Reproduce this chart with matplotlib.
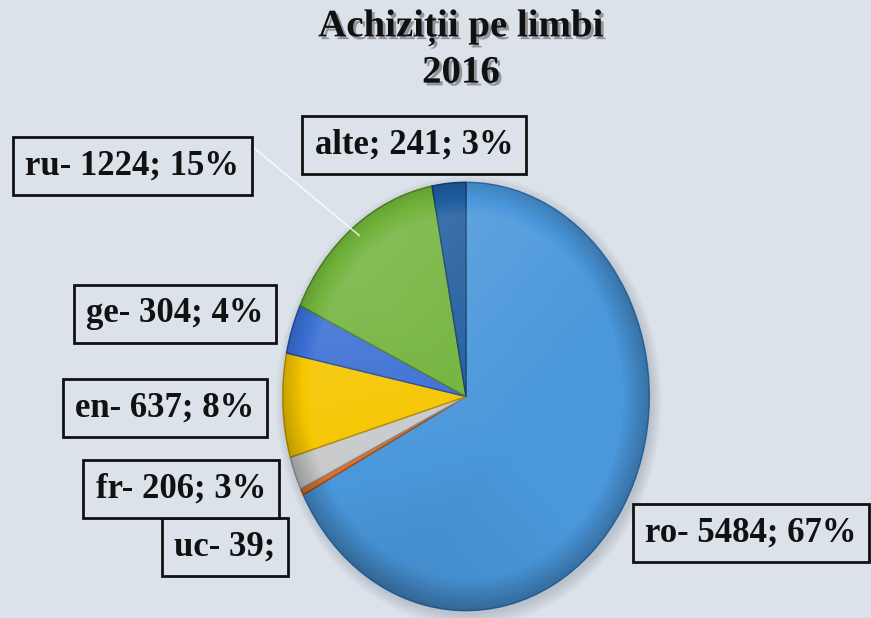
import matplotlib
matplotlib.use("Agg")
import matplotlib.pyplot as plt
import matplotlib.patheffects as pe
from matplotlib.patches import Circle, Ellipse
import numpy as np

# data
langs = ["ro", "uc", "fr", "en", "ge", "ru", "alte"]
counts = [5484, 39, 206, 637, 304, 1224, 241]
colors = ["#4a97db", "#e0702a", "#c8cacc", "#f6c600", "#3b6fd4", "#70b23a", "#1f5c9e"]
edges = ["#2f6fae", "#a04a14", "#8a8c8e", "#b08c00", "#234a9a", "#4a7f22", "#123d6e"]

title = "Achiziții pe limbi\n2016"

# label box centres in pixels (x, y from top)
label_pos = {
    "ro": (751, 533), "uc": (225, 547), "fr": (181, 489), "en": (165, 408),
    "ge": (175, 314), "ru": (132, 166), "alte": (414, 145),
}

W, H = 871, 618
bg = "#dce2ea"

fig = plt.figure(figsize=(W / 100, H / 100), dpi=100)
fig.patch.set_facecolor(bg)

# pie is an ellipse: centre (466, 396.5), rx 187, ry 218.5 px
cx, cy, rx, ry = 466, 396.5, 187, 218.5
ax = fig.add_axes([(cx - rx) / W, (H - cy - ry) / H, 2 * rx / W, 2 * ry / H])

# soft shadow behind the pie
for k in range(6):
    ax.add_patch(Ellipse((0.015, -0.02), 2.0 + 0.02 * k, 2.0 + 0.02 * k,
                         facecolor="#6a7480", alpha=0.05, lw=0, zorder=0,
                         clip_on=False))

wedges, _ = ax.pie(counts, colors=colors, startangle=90, counterclock=False,
                   wedgeprops=dict(linewidth=1.0))
for w, ec in zip(wedges, edges):
    w.set_edgecolor(ec)
    w.set_zorder(2)

# shading: light top-left, dark toward the rim
n = 300
gx, gy = np.meshgrid(np.linspace(-1, 1, n), np.linspace(1, -1, n))
r = np.sqrt(gx ** 2 + gy ** 2)
light = np.clip(0.18 * (gy - gx) / 2 + 0.04, 0, None)
dark = np.clip((r - 0.85) / 0.15, 0, 1) * 0.25 + np.clip(-(gy + gx) / 2, 0, 1) * 0.12
shade = np.zeros((n, n, 4))
shade[..., :3] = np.where((light > dark)[..., None], 1.0, 0.0)
shade[..., 3] = np.abs(light - dark)
im = ax.imshow(shade, extent=(-1, 1, -1, 1), zorder=3, interpolation="bilinear")
im.set_clip_path(Circle((0, 0), 1.0, transform=ax.transData))

ax.set_aspect("auto")
ax.set_xlim(-1.02, 1.02)
ax.set_ylim(-1.02, 1.02)
ax.axis("off")

total = sum(counts)
pcts = [round(c / total * 100) for c in counts]

# leader line for ru
i = langs.index("ru")
w = wedges[i]
mid = np.deg2rad((w.theta1 + w.theta2) / 2)
ax.annotate("", xy=(0.95 * np.cos(mid), 0.95 * np.sin(mid)), xycoords="data",
            xytext=(253, H - 147), textcoords="figure pixels", zorder=4,
            arrowprops=dict(arrowstyle="-", color="white", alpha=0.75, lw=1.2,
                            shrinkA=0, shrinkB=0))

font = ["Liberation Serif", "DejaVu Serif"]
for name, c, p in zip(langs, counts, pcts):
    if name == "alte":
        txt = f"{name}; {c}; {p}%"
    elif name == "uc":
        txt = f"{name}- {c};"
    else:
        txt = f"{name}- {c}; {p}%"
    x, y = label_pos[name]
    fig.text(x / W, 1 - y / H, txt, ha="center", va="center", fontsize=25,
             fontweight="bold", family=font, color="#111111",
             bbox=dict(boxstyle="square,pad=0.36", facecolor=bg,
                       edgecolor="#111111", linewidth=2))

fig.text(461 / W, 1 - 50 / H, title, ha="center", va="center", fontsize=28,
         fontweight="bold", family=font, color="#111111", linespacing=1.3,
         path_effects=[pe.SimplePatchShadow(offset=(2, -2), alpha=0.35),
                       pe.Normal()])

fig.savefig("out.png", dpi=100, facecolor=bg)
